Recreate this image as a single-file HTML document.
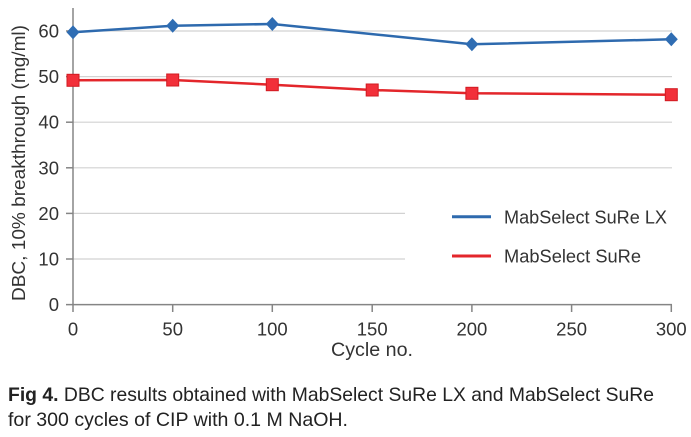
<!DOCTYPE html>
<html><head><meta charset="utf-8"><style>
html,body{margin:0;padding:0;background:#fff;}
svg{display:block;}
text{font-family:"Liberation Sans",sans-serif;}
</style></head><body>
<svg width="691" height="437" viewBox="0 0 691 437" xmlns="http://www.w3.org/2000/svg">
<rect width="691" height="437" fill="#fff"/>
<!-- gridlines -->
<g stroke="#d2d2d2" stroke-width="1.2">
<line x1="73" y1="31" x2="672" y2="31"/>
<line x1="73" y1="76.6" x2="672" y2="76.6"/>
<line x1="73" y1="122.2" x2="672" y2="122.2"/>
<line x1="73" y1="167.8" x2="672" y2="167.8"/>
<line x1="73" y1="213.4" x2="405" y2="213.4"/>
<line x1="73" y1="259" x2="405" y2="259"/>
</g>
<!-- axes -->
<g stroke="#858585" stroke-width="1.5">
<line x1="73" y1="8" x2="73" y2="305"/>
<line x1="66" y1="304.6" x2="672" y2="304.6"/>
<line x1="66" y1="31" x2="73" y2="31"/>
<line x1="66" y1="76.6" x2="73" y2="76.6"/>
<line x1="66" y1="122.2" x2="73" y2="122.2"/>
<line x1="66" y1="167.8" x2="73" y2="167.8"/>
<line x1="66" y1="213.4" x2="73" y2="213.4"/>
<line x1="66" y1="259" x2="73" y2="259"/>
<line x1="73" y1="304.6" x2="73" y2="312"/>
<line x1="172.7" y1="304.6" x2="172.7" y2="312"/>
<line x1="272.3" y1="304.6" x2="272.3" y2="312"/>
<line x1="372.2" y1="304.6" x2="372.2" y2="312"/>
<line x1="471.9" y1="304.6" x2="471.9" y2="312"/>
<line x1="571.6" y1="304.6" x2="571.6" y2="312"/>
<line x1="671.3" y1="304.6" x2="671.3" y2="312"/>
</g>
<!-- y tick labels -->
<g font-size="18.5" fill="#333" text-anchor="end">
<text x="59" y="37.5">60</text>
<text x="59" y="83.1">50</text>
<text x="59" y="128.7">40</text>
<text x="59" y="174.3">30</text>
<text x="59" y="219.9">20</text>
<text x="59" y="265.5">10</text>
<text x="59" y="311.1">0</text>
</g>
<!-- x tick labels -->
<g font-size="18.5" fill="#333" text-anchor="middle">
<text x="73" y="335.5">0</text>
<text x="172.7" y="335.5">50</text>
<text x="272.3" y="335.5">100</text>
<text x="372.2" y="335.5">150</text>
<text x="471.9" y="335.5">200</text>
<text x="571.6" y="335.5">250</text>
<text x="671.3" y="335.5">300</text>
</g>
<text x="372" y="356" font-size="19" fill="#333" text-anchor="middle" textLength="82" lengthAdjust="spacingAndGlyphs">Cycle no.</text>
<text transform="translate(25,163) rotate(-90)" font-size="18.5" fill="#333" text-anchor="middle" textLength="276" lengthAdjust="spacingAndGlyphs">DBC, 10% breakthrough (mg/ml)</text>
<!-- red series -->
<polyline points="73,80.3 172.7,80 272.3,84.7 372.2,90 471.9,93.3 671.3,94.7" fill="none" stroke="#e3262b" stroke-width="2.5"/>
<g fill="#f2303a" stroke="#d11b22" stroke-width="1">
<rect x="67" y="74.3" width="12" height="12"/>
<rect x="166.7" y="74" width="12" height="12"/>
<rect x="266.3" y="78.7" width="12" height="12"/>
<rect x="366.2" y="84" width="12" height="12"/>
<rect x="465.9" y="87.3" width="12" height="12"/>
<rect x="665.3" y="88.7" width="12" height="12"/>
</g>
<!-- blue series -->
<polyline points="73,32.3 172.7,25.7 272.3,24 471.9,44.3 671.3,39.3" fill="none" stroke="#2e6aae" stroke-width="2.5"/>
<g fill="#2f6db3">
<polygon points="73,25.3 79.5,32.3 73,39.3 66.5,32.3"/>
<polygon points="172.7,18.7 179.2,25.7 172.7,32.7 166.2,25.7"/>
<polygon points="272.3,17 278.8,24 272.3,31 265.8,24"/>
<polygon points="471.9,37.3 478.4,44.3 471.9,51.3 465.4,44.3"/>
<polygon points="671.3,32.3 677.8,39.3 671.3,46.3 664.8,39.3"/>
</g>
<!-- legend -->
<line x1="452" y1="216.7" x2="491" y2="216.7" stroke="#2e6aae" stroke-width="3"/>
<line x1="452" y1="256" x2="491" y2="256" stroke="#e3262b" stroke-width="3"/>
<text x="504" y="223.5" font-size="18" fill="#333" textLength="163" lengthAdjust="spacingAndGlyphs">MabSelect SuRe LX</text>
<text x="504" y="262.5" font-size="18" fill="#333" textLength="137" lengthAdjust="spacingAndGlyphs">MabSelect SuRe</text>
<!-- caption -->
<text x="8" y="401" font-size="19.5" fill="#222" textLength="646" lengthAdjust="spacingAndGlyphs"><tspan font-weight="bold">Fig 4.</tspan> DBC results obtained with MabSelect SuRe LX and MabSelect SuRe</text>
<text x="8" y="426" font-size="19.5" fill="#222" textLength="340" lengthAdjust="spacingAndGlyphs">for 300 cycles of CIP with 0.1 M NaOH.</text>
</svg>
</body></html>
